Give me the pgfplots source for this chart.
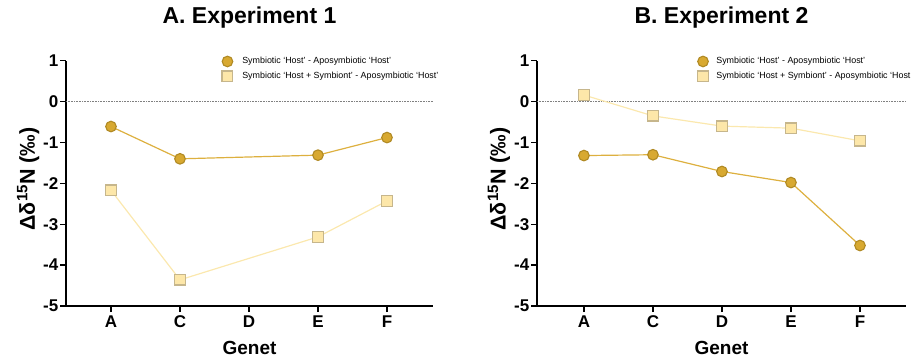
\documentclass[border=0pt]{standalone}
\usepackage{fontspec}
\setmainfont{Liberation Sans}
\usepackage{pgfplots}
\pgfplotsset{compat=1.18}
\definecolor{goldfill}{HTML}{D8A931}
\definecolor{golddraw}{HTML}{B08A24}
\definecolor{goldline}{HTML}{DDB03F}
\definecolor{creamfill}{HTML}{FDE7A9}
\definecolor{creamdraw}{HTML}{C6B68C}
\definecolor{creamline}{HTML}{FBE8AE}
\pgfplotsset{gstyle/.style={
  scale only axis, height=245.3pt,
  axis x line=bottom, axis y line=left,
  axis line style={-, line width=1.6pt, black},
  ymin=-5, ymax=1, ytick={-5,-4,-3,-2,-1,0,1},
  xtick={0,1,2,3,4}, xticklabels={A,C,D,E,F},
  tick align=outside, major tick length=6pt,
  tick style={line width=1.4pt, black},
  /pgf/number format/assume math mode=true,
  ticklabel style={font=\bfseries\fontsize{17}{18}\selectfont},
  yticklabel style={inner sep=1.5pt},
  xticklabel style={inner sep=3.5pt},
  xlabel={Genet},
  xlabel style={font=\bfseries\fontsize{19}{20}\selectfont, at={(axis description cs:0.5,-0.198)}, anchor=base},
  ylabel={Δδ\textsuperscript{15}N (‰)},
  ylabel style={font=\bfseries\fontsize{21.5}{23}\selectfont, at={(axis description cs:-0.085,0.518)}, anchor=base, rotate=0},
  title style={font=\bfseries\fontsize{23}{25}\selectfont, at={(axis description cs:0.5,1.129)}, anchor=base},
  clip=false,
  legend style={draw=none, fill=none, font=\fontsize{8.9}{10}\selectfont, row sep=3pt, anchor=north west, inner sep=0pt, column sep=7.5pt},
  legend cell align=left,
  legend image code/.code={\draw[##1] plot coordinates {(0pt,0pt)};},
  circ/.style={color=goldline, line width=1.2pt, mark=*, mark size=5.3pt, mark options={fill=goldfill, draw=golddraw, line width=1.1pt}},
  sq/.style={color=creamline, line width=1.2pt, mark=square*, mark size=5.3pt, mark options={fill=creamfill, draw=creamdraw, line width=1.4pt}},
}}
\begin{document}
\begin{tikzpicture}[x=1pt,y=1pt]
\useasboundingbox (0,0) rectangle (912,360);
\begin{axis}[gstyle, at={(66pt,54pt)}, anchor=south west, width=367pt,
  xmin=-0.652, xmax=4.667, title={A. Experiment 1},
  legend style={at={(axis description cs:0.425,1.022)}}]
  \draw[gray, densely dotted, line width=0.6pt] (axis cs:-0.652,0) -- (axis cs:4.667,0);
  \addplot[circ] coordinates {(0,-0.61) (1,-1.40) (3,-1.31) (4,-0.88)};
  \addlegendentry{Symbiotic ‘Host’ - Aposymbiotic ‘Host’}
  \addplot[sq] coordinates {(0,-2.17) (1,-4.36) (3,-3.31) (4,-2.43)};
  \addlegendentry{Symbiotic ‘Host + Symbiont’ - Aposymbiotic ‘Host’}
\end{axis}
\begin{axis}[gstyle, at={(537pt,54pt)}, anchor=south west, width=369pt,
  xmin=-0.68, xmax=4.667, title={B. Experiment 2},
  legend style={at={(axis description cs:0.435,1.022)}, column sep=6pt}]
  \draw[gray, densely dotted, line width=0.6pt] (axis cs:-0.68,0) -- (axis cs:4.667,0);
  \addplot[circ] coordinates {(0,-1.32) (1,-1.30) (2,-1.71) (3,-1.98) (4,-3.52)};
  \addlegendentry{Symbiotic ‘Host’ - Aposymbiotic ‘Host’}
  \addplot[sq] coordinates {(0,0.16) (1,-0.35) (2,-0.60) (3,-0.65) (4,-0.96)};
  \addlegendentry{Symbiotic ‘Host + Symbiont’ - Aposymbiotic ‘Host}
\end{axis}
\end{tikzpicture}
\end{document}
